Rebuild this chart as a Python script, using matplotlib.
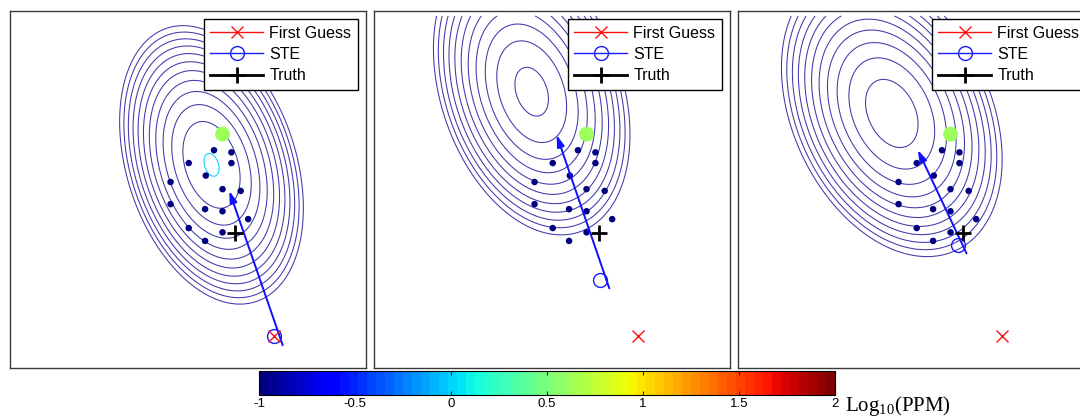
import numpy as np
import matplotlib
matplotlib.use("Agg")
import matplotlib.pyplot as plt
from matplotlib.lines import Line2D
from matplotlib.colors import Normalize
from matplotlib.cm import ScalarMappable

# ---------------- data (axis units 0..100 in each panel) ----------------
sensor_x = [59.7, 57.3, 62.2, 50.2, 62.2, 55.0, 45.1, 59.7, 64.8, 45.1, 54.8, 59.7, 66.9, 50.2, 59.7, 54.8]
sensor_y = [65.5, 61.0, 60.4, 57.4, 57.4, 53.9, 52.1, 50.1, 49.6, 45.9, 44.5, 43.9, 41.7, 39.2, 38.0, 35.6]
sensor_val = [0.64, -1, -1, -1, -1, -1, -1, -1, -1, -1, -1, -1, -1, -1, -1, -1]

truth = (63.2, 37.7)
first_guess = (74.2, 9.0)
ste_x = [74.2, 63.5, 61.7]
ste_y = [9.0, 24.6, 34.5]
arrow_tail_x = [76.6, 66.1, 64.2]
arrow_tail_y = [6.4, 22.3, 32.1]
arrow_tip_x = [61.6, 51.3, 50.5]
arrow_tip_y = [49.6, 65.3, 61.1]

# contour field parameters per panel (plume estimate, log10 PPM)
plume_cx = [56.6, 44.3, 43.2]
plume_cy = [56.9, 77.4, 71.3]
plume_sx = [25.8, 27.6, 31.0]
plume_sy = [39.0, 40.1, 40.1]
plume_rho = [-0.31, -0.30, -0.32]
plume_top = [0.0, -1.0, -1.0]       # value of innermost contour
plume_q0 = [0.0067, 0.0291, 0.0566]  # normalized radius^2 of innermost contour
plume_dq = [0.0903, 0.0971, 0.0943]  # step per 1 log unit
plume_n = [12, 11, 11]
domain_ymax = 98.6

legend_labels = ["First Guess", "STE", "Truth"]
cbar_ticks = [-1, -0.5, 0, 0.5, 1, 1.5, 2]
cbar_ticklabels = ["-1", "-0.5", "0", "0.5", "1", "1.5", "2"]
vmin, vmax = -1, 2

# ---------------- figure ----------------
W, H = 1080, 416
fig = plt.figure(figsize=(W / 100, H / 100), dpi=100)
cmap = plt.get_cmap("jet", 64)
norm = Normalize(vmin=vmin, vmax=vmax)
low_line = "#4138aa"

panel_left_px = [10, 374, 738]
pw, ph = 356, 357
top_px = 11

gx = np.linspace(0, 100, 400)
gy = np.linspace(0, domain_ymax, 400)
GX, GY = np.meshgrid(gx, gy)

for i in range(3):
    ax = fig.add_axes([panel_left_px[i] / W, (H - top_px - ph) / H, pw / W, ph / H])
    ax.set_xlim(0, 100)
    ax.set_ylim(0, 100)
    ax.set_xticks([])
    ax.set_yticks([])
    for s in ax.spines.values():
        s.set_color("#3a3a3a")
        s.set_linewidth(1.0)

    sx, sy, r = plume_sx[i], plume_sy[i], plume_rho[i]
    cov = np.array([[sx * sx, r * sx * sy], [r * sx * sy, sy * sy]])
    inv = np.linalg.inv(cov)
    dx = GX - plume_cx[i]
    dy = GY - plume_cy[i]
    Q = inv[0, 0] * dx * dx + 2 * inv[0, 1] * dx * dy + inv[1, 1] * dy * dy
    F = plume_top[i] - (Q - plume_q0[i]) / plume_dq[i]
    levels = np.sort(plume_top[i] - np.arange(plume_n[i]))
    colors = [cmap(norm(l)) if l > vmin else low_line for l in levels]
    ax.contour(GX, GY, F, levels=levels, colors=colors, linewidths=0.75, zorder=1)

    ax.scatter(sensor_x[1:], sensor_y[1:], c=sensor_val[1:], cmap=cmap, norm=norm,
               s=22, edgecolors="none", zorder=3)
    ax.scatter(sensor_x[:1], sensor_y[:1], c=sensor_val[:1], cmap=cmap, norm=norm,
               s=115, edgecolors="none", zorder=3)

    ax.annotate("", xy=(arrow_tip_x[i], arrow_tip_y[i]),
                xytext=(arrow_tail_x[i], arrow_tail_y[i]),
                arrowprops=dict(arrowstyle="-|>,head_length=0.7,head_width=0.22",
                                color="#1010ff", lw=1.4, shrinkA=0, shrinkB=0,
                                mutation_scale=10), zorder=4)

    ax.plot([ste_x[i]], [ste_y[i]], marker="o", ms=10, mfc="none", mec="#1a1aff",
            mew=1.0, ls="none", zorder=5)
    ax.plot([first_guess[0]], [first_guess[1]], marker="x", ms=8, mec="#ff1010",
            mew=1.0, ls="none", zorder=6)
    ax.plot([truth[0]], [truth[1]], marker="+", ms=12, mec="black",
            mew=2.0, ls="none", zorder=7)

    handles = [
        Line2D([], [], color="#ff1010", lw=1.0, marker="x", ms=8, mew=1.0),
        Line2D([], [], color="#1a1aff", lw=1.0, marker="o", ms=10, mfc="none", mew=1.0),
        Line2D([], [], color="black", lw=2.0, marker="+", ms=12, mew=2.0),
    ]
    leg = ax.legend(handles, legend_labels, loc="upper right",
                    prop={"family": "Liberation Sans", "size": 11.5},
                    frameon=True, fancybox=False, framealpha=1, edgecolor="black",
                    borderaxespad=0.5, borderpad=0.42, handlelength=3.3,
                    handletextpad=0.4, labelspacing=0.4, numpoints=1)
    leg.get_frame().set_linewidth(1.0)
    leg.set_zorder(10)

# ---------------- colorbar ----------------
cax = fig.add_axes([259 / W, (H - 395) / H, 576 / W, 24 / H])
sm = ScalarMappable(norm=norm, cmap=cmap)
cb = fig.colorbar(sm, cax=cax, orientation="horizontal", ticks=cbar_ticks)
cb.set_ticklabels(cbar_ticklabels)
cb.outline.set_linewidth(0.8)
cax.tick_params(direction="in", length=3, width=0.8, top=True, bottom=True,
                labelsize=9.5, pad=2.5, color="#222222")
for t in cax.get_xticklabels():
    t.set_family("Liberation Sans")

fig.text(845 / W, (H - 411) / H, r"Log$_{\mathregular{10}}$(PPM)",
         family="Liberation Serif", size=15, va="baseline", ha="left")

fig.savefig("out.png", dpi=100)
